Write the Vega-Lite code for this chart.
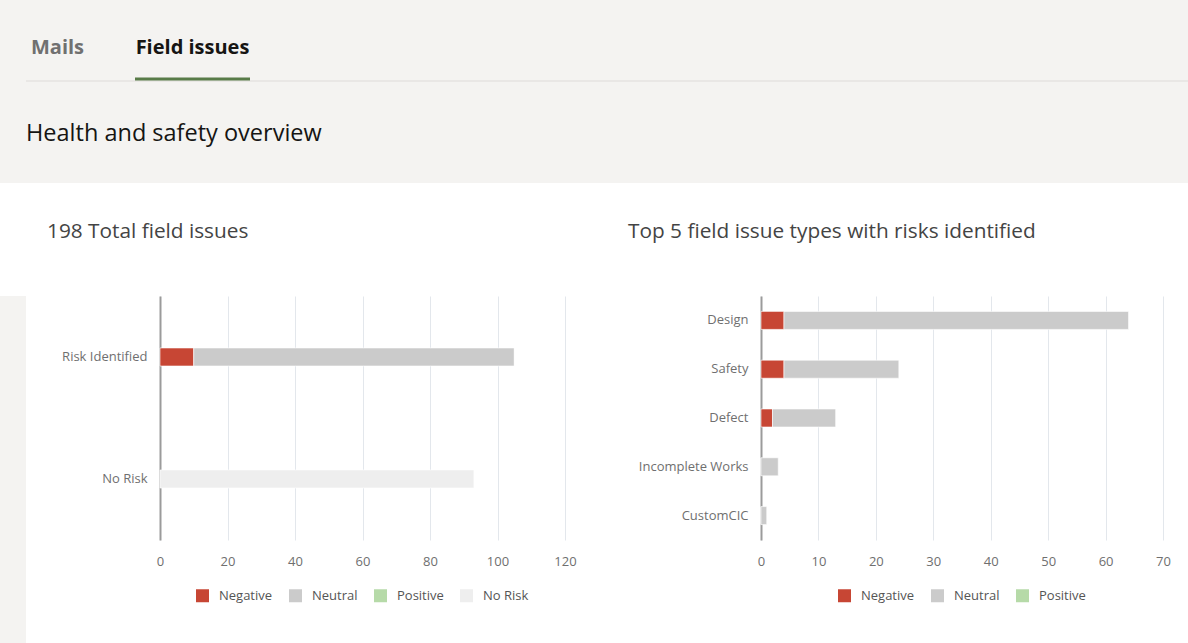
{
  "$schema": "https://vega.github.io/schema/vega-lite/v6.json",
  "background": "#ffffff",
  "padding": 0,
  "spacing": 38,
  "config": {
    "font": "Open Sans",
    "view": {"stroke": null},
    "axis": {"labelFont": "Open Sans", "labelColor": "#6f6f6f", "labelFontSize": 13, "ticks": false, "title": null},
    "legend": {"layout": {"bottom": {"anchor": "middle"}}}
  },
  "datasets": {
    "tabs": [
      {"tab": "Mails", "active": false},
      {"tab": "Field issues", "active": true}
    ],
    "heading": [{"text": "Health and safety overview"}],
    "divider": [{"part": "divider"}],
    "overall": [
      {"risk": "Risk Identified", "sentiment": "Negative", "count": 10},
      {"risk": "Risk Identified", "sentiment": "Neutral", "count": 95},
      {"risk": "Risk Identified", "sentiment": "Positive", "count": 0},
      {"risk": "No Risk", "sentiment": "No Risk", "count": 93}
    ],
    "types": [
      {"type": "Design", "sentiment": "Negative", "count": 4},
      {"type": "Design", "sentiment": "Neutral", "count": 60},
      {"type": "Safety", "sentiment": "Negative", "count": 4},
      {"type": "Safety", "sentiment": "Neutral", "count": 20},
      {"type": "Defect", "sentiment": "Negative", "count": 2},
      {"type": "Defect", "sentiment": "Neutral", "count": 11},
      {"type": "Incomplete Works", "sentiment": "Negative", "count": 0},
      {"type": "Incomplete Works", "sentiment": "Neutral", "count": 3},
      {"type": "CustomCIC", "sentiment": "Negative", "count": 0},
      {"type": "CustomCIC", "sentiment": "Neutral", "count": 1}
    ]
  },
  "vconcat": [
    {
      "width": 1188,
      "height": 183,
      "view": {"fill": "#f4f3f1", "stroke": null},
      "layer": [
        {
          "data": {"name": "tabs"},
          "mark": {"type": "text", "fontSize": 20, "fontWeight": "bold", "dy": -44},
          "encoding": {
            "x": {"field": "tab", "type": "nominal", "scale": {"type": "point", "padding": 0, "domain": ["Mails", "Field issues"], "range": [57.5, 192.5]}, "axis": null},
            "text": {"field": "tab"},
            "color": {"condition": {"test": "datum.active", "value": "#161513"}, "value": "#707070"}
          }
        },
        {
          "data": {"name": "divider"},
          "mark": {"type": "tick", "orient": "horizontal", "size": 1162, "thickness": 1, "color": "#dddcda", "opacity": 1, "xOffset": 13, "yOffset": -10.5},
          "encoding": {}
        },
        {
          "data": {"name": "tabs"},
          "transform": [{"filter": "datum.active"}],
          "mark": {"type": "tick", "orient": "horizontal", "size": 115, "thickness": 3, "color": "#587b48", "opacity": 1, "yOffset": -12.5},
          "encoding": {
            "x": {"field": "tab", "type": "nominal"}
          }
        },
        {
          "data": {"name": "heading"},
          "mark": {"type": "text", "fontSize": 23.5, "align": "left", "dx": -568, "dy": 42.5, "color": "#161513"},
          "encoding": {"text": {"field": "text"}}
        }
      ]
    },
    {
      "spacing": 0,
      "hconcat": [
        {
          "width": 26,
          "height": 430,
          "view": {"fill": "#f4f3f1", "stroke": null},
          "data": {"values": []},
          "mark": "point",
          "encoding": {}
        },
        {
          "spacing": 51,
          "resolve": {"scale": {"color": "independent"}},
          "hconcat": [
            {
              "width": 405,
              "height": 244,
              "title": {"text": "198 Total field issues", "anchor": "start", "frame": "group", "dx": -113, "fontSize": 20.8, "fontWeight": "normal", "color": "#444444", "offset": 53},
              "data": {"name": "overall"},
              "mark": {"type": "bar", "stroke": "#ffffff", "strokeWidth": 0.6},
              "encoding": {
                "y": {
                  "field": "risk", "type": "nominal", "sort": ["Risk Identified", "No Risk"],
                  "scale": {"paddingInner": 0.852, "paddingOuter": 0.426},
                  "axis": {"minExtent": 134, "maxExtent": 134, "labelPadding": 13, "domainColor": "#9b9b9b", "domainWidth": 2, "grid": false}
                },
                "x": {
                  "field": "count", "type": "quantitative", "stack": "zero",
                  "scale": {"domain": [0, 120]},
                  "axis": {"values": [0, 20, 40, 60, 80, 100, 120], "labelFlush": false, "domain": false, "grid": true, "gridColor": "#e3e7ec", "labelPadding": 15}
                },
                "color": {
                  "field": "sentiment", "type": "nominal",
                  "scale": {"domain": ["Negative", "Neutral", "Positive", "No Risk"], "range": ["#c74634", "#cbcbcb", "#b6daa8", "#eeeeee"]},
                  "legend": {"title": null, "orient": "bottom", "direction": "horizontal", "symbolType": "square", "symbolSize": 169, "symbolStrokeWidth": 0, "symbolOpacity": 1, "labelFontSize": 13, "labelColor": "#555555", "columnPadding": 16, "labelOffset": 10, "offset": 21}
                }
              }
            },
            {
              "width": 402,
              "height": 244,
              "title": {"text": "Top 5 field issue types with risks identified", "anchor": "start", "frame": "group", "dx": -133, "fontSize": 20.8, "fontWeight": "normal", "color": "#444444", "offset": 53},
              "data": {"name": "types"},
              "mark": {"type": "bar", "stroke": "#ffffff", "strokeWidth": 0.6},
              "encoding": {
                "y": {
                  "field": "type", "type": "nominal", "sort": ["Design", "Safety", "Defect", "Incomplete Works", "CustomCIC"],
                  "scale": {"paddingInner": 0.631, "paddingOuter": 0.3155},
                  "axis": {"minExtent": 133, "maxExtent": 133, "labelPadding": 13, "domainColor": "#9b9b9b", "domainWidth": 2, "grid": false}
                },
                "x": {
                  "field": "count", "type": "quantitative", "stack": "zero",
                  "scale": {"domain": [0, 70]},
                  "axis": {"values": [0, 10, 20, 30, 40, 50, 60, 70], "labelFlush": false, "domain": false, "grid": true, "gridColor": "#e3e7ec", "labelPadding": 15}
                },
                "color": {
                  "field": "sentiment", "type": "nominal",
                  "scale": {"domain": ["Negative", "Neutral", "Positive"], "range": ["#c74634", "#cbcbcb", "#b6daa8"]},
                  "legend": {"title": null, "orient": "bottom", "direction": "horizontal", "symbolType": "square", "symbolSize": 169, "symbolStrokeWidth": 0, "symbolOpacity": 1, "labelFontSize": 13, "labelColor": "#555555", "columnPadding": 16, "labelOffset": 10, "offset": 21}
                }
              }
            }
          ]
        }
      ]
    }
  ]
}
